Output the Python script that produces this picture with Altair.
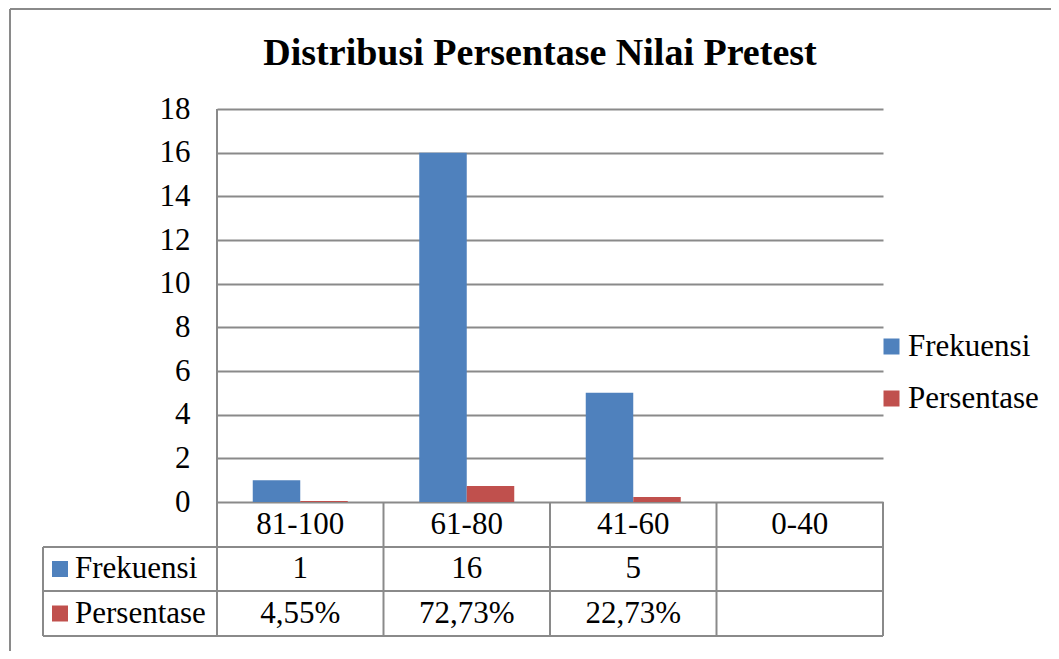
import altair as alt
import pandas as pd

# ---- data ----
categories = ["81-100", "61-80", "41-60", "0-40"]
frekuensi = [1, 16, 5, None]
persentase = [0.0455, 0.7273, 0.2273, None]
series = ["Frekuensi", "Persentase"]
colors = ["#4F81BD", "#C0504D"]
y_ticks = [0, 2, 4, 6, 8, 10, 12, 14, 16, 18]
title_text = "Distribusi Persentase Nilai Pretest"

rows = []
for c, f, p in zip(categories, frekuensi, persentase):
    if f is not None:
        rows.append({"cat": c, "series": "Frekuensi", "value": f})
    if p is not None:
        rows.append({"cat": c, "series": "Persentase", "value": p})
bars_df = pd.DataFrame(rows)


def fmt_pct(p):
    return "" if p is None else f"{p * 100:.2f}%".replace(".", ",")


table_df = pd.DataFrame({
    "cat": categories,
    "freq": ["" if f is None else str(f) for f in frekuensi],
    "pct": [fmt_pct(p) for p in persentase],
})
series_df = pd.DataFrame({"series": series})
one = pd.DataFrame({"a": [0]})

# ---- layout (plot area) ----
W, H = 666, 393
FONT = "Liberation Serif"
FS = 31
GRID = "#8a8a8a"
LINE_W = 2

xscale = alt.Scale(domain=categories, paddingInner=0, paddingOuter=0)
yscale = alt.Scale(domain=[0, 18], nice=False)
color_enc = alt.Color(
    "series:N",
    scale=alt.Scale(domain=series, range=colors),
    legend=alt.Legend(
        title=None, orient="none", legendX=659, legendY=222,
        symbolType="square", symbolSize=256, symbolStrokeWidth=0,
        labelFontSize=FS, labelFont=FONT, labelColor="black",
        rowPadding=20, labelOffset=1, padding=0,
    ),
)

bars = alt.Chart(bars_df).mark_bar().encode(
    x=alt.X("cat:N", scale=xscale, axis=None),
    xOffset=alt.XOffset("series:N", scale=alt.Scale(domain=series, paddingInner=0, paddingOuter=0.7526)),
    y=alt.Y("value:Q", scale=yscale, axis=alt.Axis(
        values=y_ticks, grid=True, domain=False, ticks=False,
        labelFontSize=FS, labelFont=FONT, labelColor="black", labelPadding=27,
        title=None, gridColor=GRID, gridWidth=LINE_W,
    )),
    color=color_enc,
)

# table text rows
txt = dict(font=FONT, fontSize=FS, baseline="middle", align="center", color="black")
row_cat = alt.Chart(table_df).mark_text(**txt).encode(
    x=alt.X("cat:N", scale=xscale, axis=None), y=alt.value(415.5), text="cat:N")
row_freq = alt.Chart(table_df).mark_text(**txt).encode(
    x=alt.X("cat:N", scale=xscale, axis=None), y=alt.value(460), text="freq:N")
row_pct = alt.Chart(table_df).mark_text(**txt).encode(
    x=alt.X("cat:N", scale=xscale, axis=None), y=alt.value(504.5), text="pct:N")


def row_label(name, ypix):
    sq = alt.Chart(series_df).transform_filter(alt.datum.series == name).mark_square(
        size=256, opacity=1).encode(x=alt.value(-157), y=alt.value(ypix), color=color_enc)
    lb = alt.Chart(series_df).transform_filter(alt.datum.series == name).mark_text(
        font=FONT, fontSize=FS, baseline="middle", align="left", color="black").encode(
        x=alt.value(-142), y=alt.value(ypix), text="series:N")
    return sq + lb


labels = row_label("Frekuensi", 460) + row_label("Persentase", 504.5)

# table grid lines
rule = dict(color=GRID, strokeWidth=LINE_W)
vbound = alt.Chart(table_df).mark_rule(**rule).encode(
    x=alt.X("cat:N", scale=xscale, axis=None, bandPosition=0),
    y=alt.value(393), y2=alt.value(527))
v_left_axis = alt.Chart(one).mark_rule(**rule).encode(
    x=alt.value(0), y=alt.value(0), y2=alt.value(527))
v_right = alt.Chart(one).mark_rule(**rule).encode(
    x=alt.value(W), y=alt.value(393), y2=alt.value(527))
v_left = alt.Chart(one).mark_rule(**rule).encode(
    x=alt.value(-174), y=alt.value(438), y2=alt.value(527))
hlines = [
    alt.Chart(one).mark_rule(**rule).encode(x=alt.value(-174), x2=alt.value(W), y=alt.value(yy))
    for yy in (438, 482, 527)
]

# outer chart border
border_top = alt.Chart(one).mark_rule(**rule).encode(
    x=alt.value(-207), x2=alt.value(900), y=alt.value(-100))
border_left = alt.Chart(one).mark_rule(**rule).encode(
    x=alt.value(-207), y=alt.value(-100), y2=alt.value(600))

title = alt.Chart(one).mark_text(
    font=FONT, fontSize=38, fontWeight="bold", baseline="middle", align="center", color="black"
).encode(x=alt.value(323), y=alt.value(-55), text=alt.value(title_text))

chart = alt.layer(
    bars, vbound, v_left_axis, v_right, v_left, *hlines,
    row_cat, row_freq, row_pct, labels, border_top, border_left, title,
).properties(
    width=W, height=H,
    autosize=alt.AutoSizeParams(type="none"),
    padding={"left": 209, "top": 101, "right": 168, "bottom": 149},
    background="white",
).configure_view(stroke=None)

chart.save("out.html", embed_options={"renderer": "svg", "actions": False})
